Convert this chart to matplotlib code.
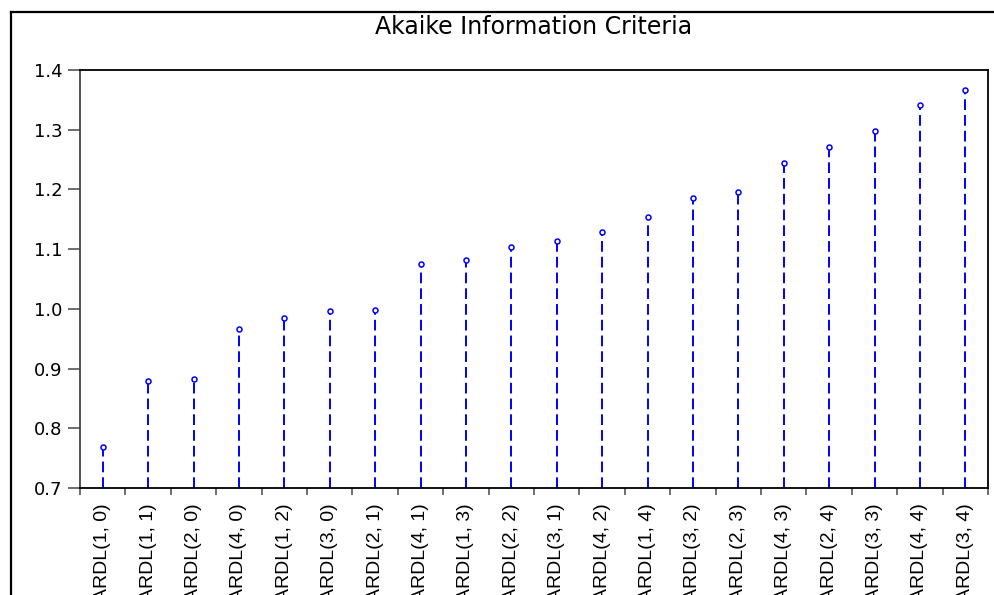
import numpy as np
import matplotlib.pyplot as plt
from matplotlib.lines import Line2D

models = ['ARDL(1, 0)', 'ARDL(1, 1)', 'ARDL(2, 0)', 'ARDL(4, 0)', 'ARDL(1, 2)',
          'ARDL(3, 0)', 'ARDL(2, 1)', 'ARDL(4, 1)', 'ARDL(1, 3)', 'ARDL(2, 2)',
          'ARDL(3, 1)', 'ARDL(4, 2)', 'ARDL(1, 4)', 'ARDL(3, 2)', 'ARDL(2, 3)',
          'ARDL(4, 3)', 'ARDL(2, 4)', 'ARDL(3, 3)', 'ARDL(4, 4)', 'ARDL(3, 4)']
aic = [0.769, 0.879, 0.882, 0.966, 0.985, 0.997, 0.998, 1.075, 1.081, 1.103,
       1.114, 1.129, 1.154, 1.185, 1.196, 1.244, 1.271, 1.298, 1.341, 1.367]
yticks = [0.7, 0.8, 0.9, 1.0, 1.1, 1.2, 1.3, 1.4]

fig = plt.figure(figsize=(9.94, 5.95), dpi=100)
ax = fig.add_axes([80/994, 1-488/595, 908/994, 418/595])

x = np.arange(len(models))
for xi, v in zip(x, aic):
    ax.plot([xi, xi], [yticks[0], v], color='#0000ff', lw=1.4, dashes=(5.5, 2.6))
ax.plot(x, aic, 'o', ms=3.6, mfc='white', mec='#0000ff', mew=1.1, ls='none')

ax.set_xlim(-0.5, len(models) - 0.5)
ax.set_ylim(yticks[0], yticks[-1])
ax.set_yticks(yticks)
ax.set_yticklabels([f'{t:.1f}' for t in yticks], fontsize=13, family='DejaVu Sans')

# ticks sit between the categories, labels at the category centres
ax.set_xticks(np.arange(-0.5, len(models), 1.0))
ax.set_xticklabels([])
ax.set_xticks(x, minor=True)
ax.set_xticklabels(models, minor=True, rotation=90, va='top', ha='center',
                   fontsize=14, family=['Liberation Sans', 'DejaVu Sans'])
ax.tick_params(axis='x', which='major', direction='out', length=5, width=1.2, color='#555555')
ax.tick_params(axis='x', which='minor', length=0, pad=11)
ax.tick_params(axis='y', direction='out', length=8.5, width=1.2, color='#555555', pad=4)

for s in ax.spines.values():
    s.set_linewidth(1.3)
    s.set_color('black')
ax.spines['left'].set_color('#444444')

ax.set_title('Akaike Information Criteria', fontsize=17, family='DejaVu Sans', pad=26)

# outer frame around the chart
fig.add_artist(Line2D([10.5/994, 10.5/994], [0, 1-12/595], transform=fig.transFigure,
                      color='black', lw=1.6))
fig.add_artist(Line2D([10.5/994, 1], [1-12/595, 1-12/595], transform=fig.transFigure,
                      color='black', lw=1.6))

fig.savefig('out.png', dpi=100)
